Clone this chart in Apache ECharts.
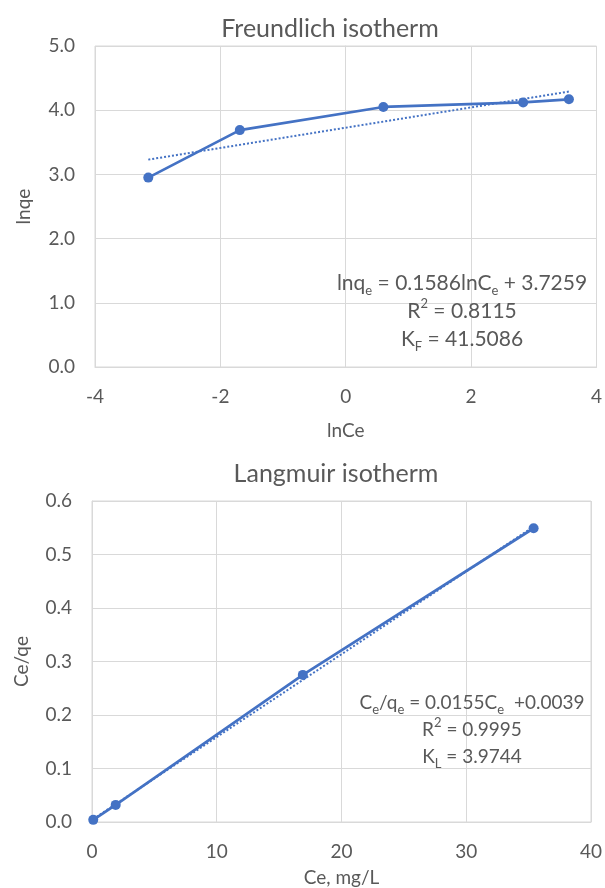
<!DOCTYPE html>
<html>
<head>
<meta charset="utf-8">
<script src="https://cdn.jsdelivr.net/npm/echarts@6/dist/echarts.min.js"></script>
<style>
  html, body { margin: 0; padding: 0; background: #fff; }
  #chart { width: 605px; height: 888px; }
</style>
</head>
<body>
<div id="chart"></div>
<script>
// Freundlich: lnCe vs lnqe
const lnCe = [-3.15, -1.69, 0.6, 2.83, 3.56];
const lnqe = [2.95, 3.69, 4.05, 4.12, 4.17];
const freundTrend = [[-3.15, 3.23], [3.56, 4.29]];

// Langmuir: Ce vs Ce/qe
const ce = [0.1, 1.9, 16.9, 35.4];
const ceqe = [0.004, 0.032, 0.275, 0.549];
const langTrend = [[0.1, 0.0055], [35.4, 0.552]];

const blue = '#4472c4';
const textColor = '#595959';
const gridColor = '#d9d9d9';
const font = 'Lato, "Noto Sans", sans-serif';

const zip = (a, b) => a.map((v, i) => [v, b[i]]);

const chart = echarts.init(document.getElementById('chart'));

function axisBase() {
  return {
    axisLine: { show: true, lineStyle: { color: gridColor } },
    axisTick: { show: false },
    splitLine: { show: true, lineStyle: { color: gridColor, width: 1 } },
    nameTextStyle: { color: textColor, fontSize: 19, fontFamily: font }
  };
}
function labels(margin, fmt) {
  return { color: textColor, fontSize: 19, fontFamily: font, margin: margin, formatter: fmt };
}
const oneDec = v => v.toFixed(1);

// rich styles for the trendline annotations (sub/superscripts)
function richFor(size, lh) {
  return {
    t: { fontSize: size, color: textColor, fontFamily: font, lineHeight: lh },
    sub: { fontSize: 13, color: textColor, fontFamily: font, lineHeight: 16, verticalAlign: 'bottom' },
    sup: { fontSize: 13, color: textColor, fontFamily: font, lineHeight: 22, verticalAlign: 'top' }
  };
}

const option = {
  animation: false,
  textStyle: { fontFamily: font },
  title: [
    { text: 'Freundlich isotherm', left: 325, top: 11, textAlign: 'center',
      textStyle: { color: textColor, fontSize: 25, fontWeight: 'normal', fontFamily: font } },
    { text: 'Langmuir isotherm', left: 331, top: 456, textAlign: 'center',
      textStyle: { color: textColor, fontSize: 25, fontWeight: 'normal', fontFamily: font } }
  ],
  grid: [
    { left: 95, top: 46, width: 505, height: 321, show: true, borderColor: gridColor, borderWidth: 1 },
    { left: 92, top: 501, width: 504, height: 324, show: true, borderColor: gridColor, borderWidth: 1 }
  ],
  xAxis: [
    Object.assign(axisBase(), {
      gridIndex: 0, type: 'value', min: -4, max: 4, interval: 2,
      name: 'lnCe', nameLocation: 'middle', nameGap: 54,
      axisLabel: labels(20)
    }),
    Object.assign(axisBase(), {
      gridIndex: 1, type: 'value', min: 0, max: 40, interval: 10,
      name: 'Ce, mg/L', nameLocation: 'middle', nameGap: 46,
      axisLabel: labels(20)
    })
  ],
  yAxis: [
    Object.assign(axisBase(), {
      gridIndex: 0, type: 'value', min: 0, max: 5, interval: 1,
      name: 'lnqe', nameLocation: 'middle', nameGap: 62,
      axisLabel: labels(20, oneDec)
    }),
    Object.assign(axisBase(), {
      gridIndex: 1, type: 'value', min: 0, max: 0.6, interval: 0.1,
      name: 'Ce/qe', nameLocation: 'middle', nameGap: 61,
      axisLabel: labels(20, oneDec)
    })
  ],
  series: [
    {
      type: 'line', xAxisIndex: 0, yAxisIndex: 0, data: zip(lnCe, lnqe),
      symbol: 'circle', symbolSize: 10, itemStyle: { color: blue },
      lineStyle: { color: blue, width: 2.75 }, z: 3
    },
    {
      type: 'line', xAxisIndex: 0, yAxisIndex: 0, data: freundTrend,
      symbol: 'none', lineStyle: { color: blue, width: 2, type: [2, 2] }, z: 2
    },
    {
      type: 'line', xAxisIndex: 1, yAxisIndex: 1, data: zip(ce, ceqe),
      symbol: 'circle', symbolSize: 10, itemStyle: { color: blue },
      lineStyle: { color: blue, width: 2.75 }, z: 3
    },
    {
      type: 'line', xAxisIndex: 1, yAxisIndex: 1, data: langTrend,
      symbol: 'none', lineStyle: { color: blue, width: 2, type: [2, 2] }, z: 2
    }
  ],
  graphic: [
    {
      type: 'text', x: 462, y: 269, z: 10,
      style: {
        text: '{t|lnq}{sub|e}{t| = 0.1586lnC}{sub|e}{t| + 3.7259}\n{t|R}{sup|2}{t| = 0.8115}\n{t|K}{sub|F}{t| = 41.5086}',
        align: 'center', rich: richFor(21, 28), fill: textColor
      }
    },
    {
      type: 'text', x: 472, y: 689, z: 10,
      style: {
        text: '{t|C}{sub|e}{t|/q}{sub|e}{t| = 0.0155C}{sub|e}{t|  +0.0039}\n{t|R}{sup|2}{t| = 0.9995}\n{t|K}{sub|L}{t| = 3.9744}',
        align: 'center', rich: richFor(19, 27), fill: textColor
      }
    }
  ]
};

chart.setOption(option);
</script>
</body>
</html>
